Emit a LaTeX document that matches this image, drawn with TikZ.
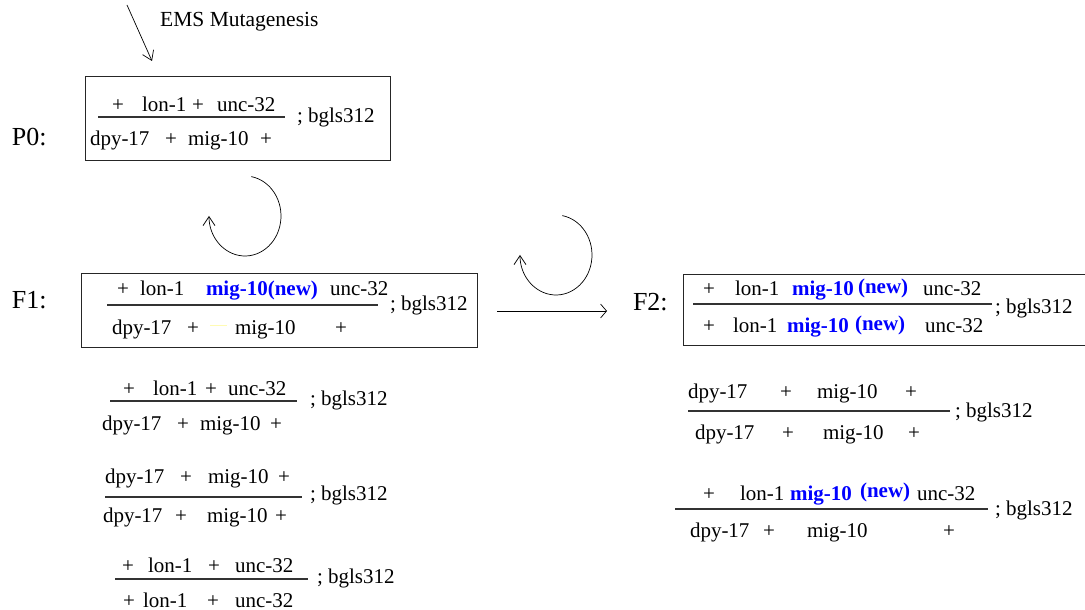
\documentclass[tikz,border=0pt]{standalone}
\usepackage{fontspec}
\setmainfont{Liberation Serif}
\usetikzlibrary{arrows.meta}
\newcommand\gseg[4]{\node[txt] (#1) at (#2,#3) {#4};}
\newcommand\gbseg[4]{\node[nw] (#1) at (#2,#3) {#4};}
\begin{document}
\begin{tikzpicture}[x=1pt,y=-1pt,
  txt/.style={anchor=base west,inner sep=0pt,outer sep=0pt,font=\fontsize{21}{24}\selectfont},
  nw/.style={anchor=base west,inner sep=0pt,outer sep=0pt,text=blue,font=\fontsize{21}{24}\selectfont\bfseries},
  lbl/.style={anchor=base west,inner sep=0pt,outer sep=0pt,font=\fontsize{26}{30}\selectfont},
  bar/.style={line width=1.1pt,draw=black!80},
  boxnode/.style={draw=black!85,line width=1pt,inner sep=0pt,outer sep=0pt},
  loop/.style={line width=0.7pt,-{Straight Barb[length=9pt,width=12pt]}},
  harrow/.style={line width=0.7pt,-{Straight Barb[length=6pt,width=14pt]}}]
\useasboundingbox (0,0) rectangle (1085,610);

% EMS arrow
\node[anchor=base west,inner sep=0pt,font=\fontsize{21.5}{24}\selectfont] (ems) at (160,27) {EMS Mutagenesis};
\coordinate (emsA) at (127,5);
\coordinate (emsB) at (152,61);
\draw[loop] (emsA) -- (emsB);

% P0
\node[lbl] (P0lbl) at (12,145) {P0:};
\node[boxnode,minimum width=305pt,minimum height=83pt] (P0box) at (237.5,118.5) {};
\gseg{p0a}{112}{111}{+}
\gseg{p0b}{142}{111}{lon-1}
\gseg{p0c}{192}{111}{+}
\gseg{p0d}{217}{111}{unc-32}
\draw[bar] (98,117) -- (285,117);
\gseg{p0e}{90}{146}{dpy-17}
\gseg{p0f}{165}{146}{+}
\gseg{p0g}{188}{146}{mig-10}
\gseg{p0h}{260}{146}{+}
\gseg{p0i}{297}{122}{; bgls312}

% loops
\draw[loop] (251.25,176.6) arc[start angle=-80,end angle=180,x radius=36,y radius=40];
\draw[loop] (562.25,215.6) arc[start angle=-80,end angle=180,x radius=36,y radius=40];

% F1
\node[lbl] (F1lbl) at (12,308) {F1:};
\node[boxnode,minimum width=396pt,minimum height=74pt] (F1box) at (279,310) {};
\gseg{f1a}{117}{295}{+}
\gseg{f1b}{140}{295}{lon-1}
\gbseg{f1c}{206}{295}{mig-10(new)}
\gseg{f1d}{330}{295}{unc-32}
\draw[bar] (107,305) -- (378,305);
\gseg{f1e}{112}{334}{dpy-17}
\gseg{f1f}{187}{334}{+}
\draw[yellow!30,line width=0.8pt] (210,325) -- (227,325);
\gseg{f1g}{235}{334}{mig-10}
\gseg{f1h}{335}{334}{+}
\gseg{f1i}{390}{310}{; bgls312}

% arrow F1 -> F2
\coordinate (hA) at (497,311);
\coordinate (hB) at (607,311);
\draw[harrow] (hA) -- (hB);

% F2
\node[lbl] (F2lbl) at (633,310) {F2:};
\draw[draw=black!85,line width=1pt] (1090,274) -| (683,345) -- (1090,345);
\gseg{f2a}{703}{295}{+}
\gseg{f2b}{735}{295}{lon-1}
\gbseg{f2c}{792}{295}{mig-10}
\gbseg{f2d}{858}{293}{(new)}
\gseg{f2e}{923}{295}{unc-32}
\draw[bar] (693,304) -- (992,304);
\gseg{f2f}{703}{332}{+}
\gseg{f2g}{733}{332}{lon-1}
\gbseg{f2h}{787}{332}{mig-10}
\gbseg{f2i}{855}{330}{(new)}
\gseg{f2j}{925}{332}{unc-32}
\gseg{f2k}{995}{313}{; bgls312}

% F1 offspring
\gseg{aa}{123}{395}{+}
\gseg{ab}{153}{395}{lon-1}
\gseg{ac}{205}{395}{+}
\gseg{ad}{228}{395}{unc-32}
\draw[bar] (110,401) -- (297,401);
\gseg{ae}{102}{430}{dpy-17}
\gseg{af}{177}{430}{+}
\gseg{ag}{200}{430}{mig-10}
\gseg{ah}{270}{430}{+}
\gseg{ai}{310}{405}{; bgls312}

\gseg{ba}{105}{483}{dpy-17}
\gseg{bb}{180}{483}{+}
\gseg{bc}{208}{483}{mig-10}
\gseg{bd}{278}{483}{+}
\draw[bar] (105,497) -- (302,497);
\gseg{be}{103}{522}{dpy-17}
\gseg{bf}{175}{522}{+}
\gseg{bg}{207}{522}{mig-10}
\gseg{bh}{275}{522}{+}
\gseg{bi}{310}{500}{; bgls312}

\gseg{ca}{122}{572}{+}
\gseg{cb}{148}{572}{lon-1}
\gseg{cc}{208}{572}{+}
\gseg{cd}{235}{572}{unc-32}
\draw[bar] (115,579) -- (308,579);
\gseg{ce}{123}{607}{+}
\gseg{cf}{143}{607}{lon-1}
\gseg{cg}{207}{607}{+}
\gseg{ch}{235}{607}{unc-32}
\gseg{ci}{317}{583}{; bgls312}

% F2 offspring
\gseg{da}{688}{398}{dpy-17}
\gseg{db}{780}{398}{+}
\gseg{dc}{817}{398}{mig-10}
\gseg{dd}{905}{398}{+}
\draw[bar] (688,411) -- (950,411);
\gseg{de}{695}{439}{dpy-17}
\gseg{df}{782}{439}{+}
\gseg{dg}{823}{439}{mig-10}
\gseg{dh}{908}{439}{+}
\gseg{di}{955}{417}{; bgls312}

\gseg{ea}{703}{500}{+}
\gseg{eb}{740}{500}{lon-1}
\gbseg{ec}{790}{500}{mig-10}
\gbseg{ed}{860}{497}{(new)}
\gseg{ee}{917}{500}{unc-32}
\draw[bar] (675,509) -- (988,509);
\gseg{ef}{690}{537}{dpy-17}
\gseg{eg}{763}{537}{+}
\gseg{eh}{807}{537}{mig-10}
\gseg{ei}{943}{537}{+}
\gseg{ej}{995}{515}{; bgls312}
\end{tikzpicture}
\end{document}
